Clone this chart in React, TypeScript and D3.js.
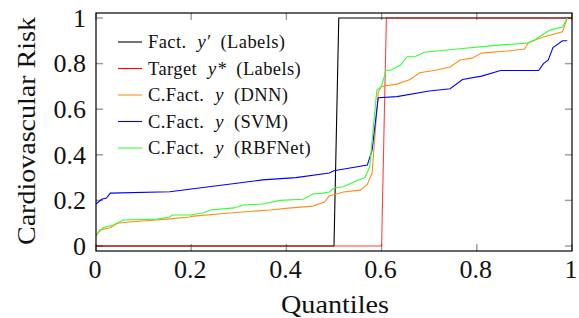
import { useEffect, useRef } from 'react';
import * as d3 from 'd3';

// ─── data ─────────────────────────────────────────────────────────────────
const factX = [0, 0.5, 0.51, 1];
const factY = [0, 0, 1, 1];

const targetX = [0, 0.6, 0.61, 1];
const targetY = [0, 0, 1, 1];

const dnnX = [0, 0.008, 0.03, 0.045, 0.07, 0.128, 0.15, 0.197, 0.2, 0.28, 0.365, 0.41, 0.456, 0.48, 0.49, 0.505, 0.52, 0.555, 0.57, 0.58, 0.593, 0.6, 0.632, 0.66, 0.68, 0.716, 0.744, 0.765, 0.79, 0.81, 0.863, 0.9, 0.91, 0.94, 0.98, 0.99];
const dnnY = [0.044, 0.07, 0.08, 0.1, 0.105, 0.114, 0.118, 0.127, 0.13, 0.145, 0.158, 0.167, 0.175, 0.193, 0.22, 0.228, 0.237, 0.245, 0.27, 0.32, 0.675, 0.7, 0.71, 0.73, 0.76, 0.772, 0.785, 0.816, 0.824, 0.846, 0.855, 0.864, 0.895, 0.917, 0.94, 1.0];

const svmX = [0, 0.012, 0.022, 0.03, 0.155, 0.2, 0.3, 0.35, 0.42, 0.49, 0.5, 0.57, 0.58, 0.593, 0.632, 0.7, 0.744, 0.77, 0.81, 0.85, 0.93, 0.94, 0.95, 0.96, 0.98, 0.99];
const svmY = [0.184, 0.205, 0.21, 0.232, 0.238, 0.25, 0.276, 0.29, 0.30, 0.32, 0.33, 0.355, 0.42, 0.65, 0.655, 0.68, 0.69, 0.73, 0.745, 0.77, 0.77, 0.80, 0.815, 0.87, 0.90, 0.90];

const rbfX = [0, 0.015, 0.036, 0.057, 0.128, 0.155, 0.16, 0.197, 0.225, 0.24, 0.29, 0.31, 0.35, 0.387, 0.435, 0.456, 0.477, 0.49, 0.5, 0.52, 0.54, 0.565, 0.575, 0.59, 0.6, 0.609, 0.62, 0.64, 0.653, 0.67, 0.69, 0.77, 0.84, 0.905, 0.92, 0.94, 0.954, 0.98, 0.99];
const rbfY = [0.048, 0.08, 0.092, 0.114, 0.118, 0.127, 0.136, 0.136, 0.145, 0.158, 0.167, 0.18, 0.184, 0.2, 0.205, 0.228, 0.232, 0.237, 0.254, 0.26, 0.28, 0.30, 0.347, 0.684, 0.70, 0.77, 0.772, 0.794, 0.83, 0.83, 0.85, 0.866, 0.88, 0.89, 0.90, 0.93, 0.947, 0.96, 1.0];

const xTicks = [0, 0.2, 0.4, 0.6, 0.8, 1];
const yTicks = [0, 0.2, 0.4, 0.6, 0.8, 1];

const seriesNames = ['Fact.', 'Target', 'C.Fact.', 'C.Fact.', 'C.Fact.'];
const seriesVars = ['y′', 'y*', 'y', 'y', 'y'];
const seriesTags = ['(Labels)', '(Labels)', '(DNN)', '(SVM)', '(RBFNet)'];
const seriesColors = ['#000000', '#ff0000', '#ff8c1a', '#0000ff', '#33ff33'];

export default function App() {
  const svgRef = useRef<SVGSVGElement | null>(null);

  useEffect(() => {
    if (!svgRef.current) return;

    const W = 579;
    const H = 318;
    const m = { top: 13, right: 7, bottom: 67, left: 96 };
    const iW = W - m.left - m.right;
    const iH = H - m.top - m.bottom;
    const font = '"Liberation Serif", serif';

    const svg = d3.select(svgRef.current);
    svg.selectAll('*').remove();
    svg.attr('width', W).attr('height', H);

    const g = svg.append('g').attr('transform', `translate(${m.left},${m.top})`);

    // ── scales ───────────────────────────────────────────────────────────
    const x = d3.scaleLinear().domain([0, 1]).range([0, iW]);
    const y = d3.scaleLinear().domain([-0.022, 1.022]).range([iH, 0]);

    // ── inward ticks on all four sides ───────────────────────────────────
    const tl = 7;
    const tickCol = '#9a9a9a';
    xTicks.forEach(t => {
      g.append('line').attr('x1', x(t)).attr('x2', x(t)).attr('y1', iH).attr('y2', iH - tl)
        .attr('stroke', tickCol).attr('stroke-width', 1.4);
      g.append('line').attr('x1', x(t)).attr('x2', x(t)).attr('y1', 0).attr('y2', tl)
        .attr('stroke', tickCol).attr('stroke-width', 1.4);
      g.append('text').attr('x', x(t) - 1).attr('y', iH + 27)
        .attr('text-anchor', 'middle').attr('font-family', font).attr('font-size', 26)
        .attr('fill', '#111').text(String(t));
    });
    yTicks.forEach(t => {
      g.append('line').attr('x1', 0).attr('x2', tl).attr('y1', y(t)).attr('y2', y(t))
        .attr('stroke', tickCol).attr('stroke-width', 1.4);
      g.append('line').attr('x1', iW).attr('x2', iW - tl).attr('y1', y(t)).attr('y2', y(t))
        .attr('stroke', tickCol).attr('stroke-width', 1.4);
      g.append('text').attr('x', -10).attr('y', y(t)).attr('dy', '0.34em')
        .attr('text-anchor', 'end').attr('font-family', font).attr('font-size', 26)
        .attr('fill', '#111').text(String(t));
    });

    // ── lines ────────────────────────────────────────────────────────────
    const series: [number[], number[]][] = [
      [factX, factY],
      [targetX, targetY],
      [dnnX, dnnY],
      [svmX, svmY],
      [rbfX, rbfY],
    ];
    const line = d3.line<[number, number]>()
      .x(d => x(d[0]))
      .y(d => y(d[1]));

    series.forEach(([xs, ys], i) => {
      const pts = xs.map((v, k) => [v, ys[k]] as [number, number]);
      g.append('path')
        .datum(pts)
        .attr('fill', 'none')
        .attr('stroke', seriesColors[i])
        .attr('stroke-width', 1.1)
        .attr('opacity', i === 1 ? 0.75 : 1)
        .attr('d', line);
    });

    // ── frame ────────────────────────────────────────────────────────────
    g.append('rect').attr('width', iW).attr('height', iH)
      .attr('fill', 'none').attr('stroke', '#000').attr('stroke-width', 1.2);

    // ── legend ───────────────────────────────────────────────────────────
    const lg = g.append('g').attr('transform', 'translate(22, 29)');
    seriesNames.forEach((name, i) => {
      const ry = i * 26.5;
      lg.append('line').attr('x1', 0).attr('x2', 24).attr('y1', ry).attr('y2', ry)
        .attr('stroke', seriesColors[i]).attr('stroke-width', 1.1);
      const t = lg.append('text').attr('x', 30).attr('y', ry).attr('dy', '0.34em')
        .attr('font-family', font).attr('font-size', 18.5).attr('fill', '#111')
        .attr('letter-spacing', 0.4);
      t.append('tspan').text(name);
      t.append('tspan').attr('dx', 11).attr('font-style', 'italic').text(seriesVars[i]);
      t.append('tspan').attr('dx', 10).text(seriesTags[i]);
    });

    // ── axis titles ──────────────────────────────────────────────────────
    svg.append('text')
      .attr('x', m.left + iW / 2 + 1).attr('y', 313)
      .attr('text-anchor', 'middle').attr('font-family', font).attr('font-size', 26)
      .attr('fill', '#111').attr('textLength', 108).attr('lengthAdjust', 'spacingAndGlyphs')
      .text('Quantiles');
    svg.append('text')
      .attr('transform', `translate(35, ${m.top + iH / 2 - 1}) rotate(-90)`)
      .attr('text-anchor', 'middle').attr('font-family', font).attr('font-size', 26)
      .attr('fill', '#111').attr('textLength', 228).attr('lengthAdjust', 'spacingAndGlyphs')
      .text('Cardiovascular Risk');
  }, []);

  return (
    <div style={{ position: 'absolute', left: 0, top: 0, background: '#fff' }}>
      <svg ref={svgRef} style={{ display: 'block' }} />
    </div>
  );
}
